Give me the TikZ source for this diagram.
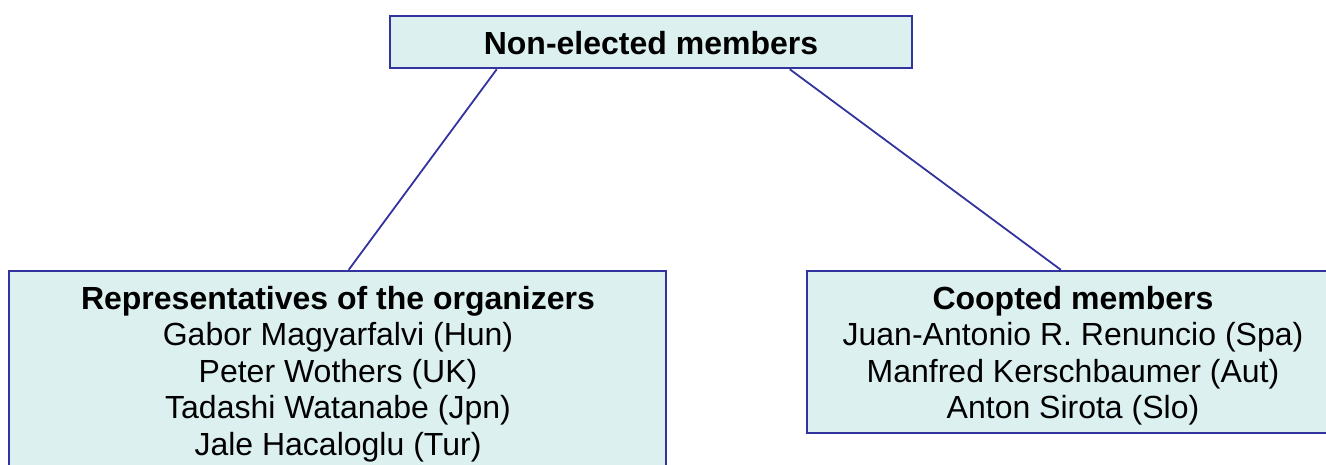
\documentclass[tikz,border=0pt]{standalone}
\usepackage{fontspec}
\setmainfont{Liberation Sans}
\definecolor{boxfill}{RGB}{221,240,240}
\definecolor{boxline}{RGB}{51,51,160}
\begin{document}
\begin{tikzpicture}[x=1pt,y=-1pt,
  box/.style={draw=boxline,fill=boxfill,line width=2.5pt,rectangle,inner sep=0pt},
  txt/.style={align=center,inner sep=0pt,font=\fontsize{32}{36.5}\selectfont},
  link/.style={draw=boxline,line width=1.8pt}]
\useasboundingbox (0,0) rectangle (1326,464);
\clip (0,0) rectangle (1326,464);
\node[box,minimum width=522pt,minimum height=52pt] (top) at (651,42) {};
\node[box,minimum width=657pt,minimum height=229pt] (left) at (337.5,385.5) {};
\node[box,minimum width=533pt,minimum height=162pt] (right) at (1073.5,352) {};
\draw[link] ([xshift=108pt]top.south west) -- ([xshift=341pt]left.north west);
\draw[link] ([xshift=401pt]top.south west) -- ([xshift=255pt]right.north west);
\node[txt,anchor=north] (toptxt) at (651,31) {\textbf{Non-elected members}};
\node[txt,anchor=north] (lefttxt) at (338,286) {\textbf{Representatives of the organizers}\\
Gabor Magyarfalvi (Hun)\\Peter Wothers (UK)\\Tadashi Watanabe (Jpn)\\Jale Hacaloglu (Tur)};
\node[txt,anchor=north] (righttxt) at (1073,286) {\textbf{Coopted members}\\
Juan-Antonio R. Renuncio (Spa)\\Manfred Kerschbaumer (Aut)\\Anton Sirota (Slo)};
\end{tikzpicture}
\end{document}
